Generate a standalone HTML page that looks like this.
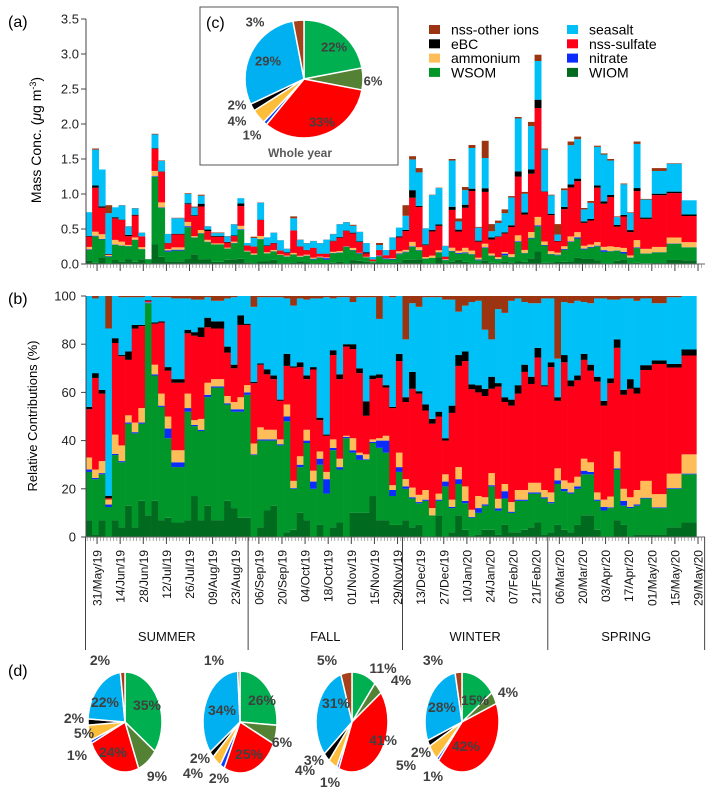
<!DOCTYPE html>
<html><head><meta charset="utf-8"><style>
body{margin:0;background:#fff}
svg{display:block;font-family:"Liberation Sans",Arial,sans-serif}
</style></head><body>
<svg id="chart" width="713" height="790" viewBox="0 0 713 790" xmlns="http://www.w3.org/2000/svg">
<g id="pa"></g>
<g id="pb"></g>
<g id="pc"></g>
<g id="pd"></g>
<g id="lg"></g>
</svg>
<script>
const components=["WIOM","WSOM","nitrate","ammonium","nss-sulfate","eBC","seasalt","nss-other ions"];
const barColors=["#006a1e","#00962a","#0a2cff","#ffbd5a","#ff0019","#000000","#00c0f8","#9b3411"];
const pieColors=["#00b050","#548235","#ff0000","#0a3cff","#fbbd3a","#000000","#00b0f0","#a5421b"];
const totalMass=[0.74,1.65,1.35,0.84,0.81,0.84,0.54,0.80,0.45,0.07,1.86,1.48,0.43,0.66,0.66,1.01,0.82,0.99,0.54,0.45,0.45,0.40,0.57,0.94,0.30,0.39,0.88,0.38,0.45,0.34,0.22,0.68,0.35,0.30,0.33,0.30,0.35,0.43,0.57,0.60,0.56,0.46,0.30,0.10,0.30,0.20,0.38,
0.52,0.84,1.54,1.37,0.51,0.99,1.09,0.26,1.50,0.65,1.10,1.70,0.53,1.76,0.57,0.62,0.78,0.97,2.10,1.03,2.03,2.99,1.65,0.99,0.57,1.08,1.75,1.82,0.80,0.90,1.69,1.58,1.50,0.68,1.15,0.74,1.75,0.93,1.37,1.44,0.91];
const pctWIOM=[7,1,7,0,7,4,13,4,15,9,15,7,8,6,6,7,17,7,13,7,7,15,12,8,8,0,4,11,13,0,2,3,10,7,0,5,0,4,6,0,10,10,10,17,7,7,5,
5,7,4,5,0,0,9,0,2,9,3,0,1,3,3,1,5,2,2,3,4,6,1,2,5,3,2,5,9,9,3,0,0,7,5,0,1,1,1,4,6];
const pctWSOM=[20,23,19,12,27,27,34,39,32,88,52,47,33,23,23,45,29,37,45,55,55,40,40,44,51,34,36,29,27,38,46,17,19,32,20,25,18,32,22,41,25,22,22,22,30,28,12,
22,13,12,9,15,9,6,21,10,13,11,8,9,10,18,10,11,8,13,12,14,12,15,12,17,16,16,15,17,17,12,11,12,21,8,12,12,15,11,16,20];
const pctNitrate=[1,0.5,0.5,1,0.5,0.5,0.5,0.5,0.5,0.3,0.5,0.5,4,2,2,1.5,0.5,0.5,1,0.5,0.5,0.5,1,1,1,0.3,0.5,0.5,0.5,0.5,2,0.3,1,1,3,2.5,6,1,1,0.5,1,2,0.3,0.5,3,5,2.5,
2,1,0.5,0.5,0.5,0,0.5,2,0.5,2,1,0.3,2,0.5,0.5,1,3,0.5,0.5,0.5,0.5,0.5,0.5,0.5,1.5,1,0.5,1,1.5,1,0.5,1.5,0.3,0.5,2,0.5,0.5,0.3,0.3,0.3,0.3];
const pctAmmonium=[5,3.5,5,2,8,6.5,3,4,6,0.2,4,5,5,5,5,6,2,4.5,5,3,3,3,3,5,3,4.5,5,4,4,2,5,3,3.5,4.5,4.5,3,3,3.5,3.5,0.5,5,1,2,1,1,2,2,
6,3,4,3,4,3,2.5,3,3,5,6,3,5,3,5,4,3,4,4,4,4,4,3,4,5,3.5,4,4,5,4,3,3,4.5,7,5,4,6,7,5.5,6,8];
const pctSulfate=[20,38,28,0.5,38,37,23,39,34,0.5,17,29.5,19,28,28,25,35,34,23,21,21,18,14,30,25,25,26,23,21,16,16,47,37,21,42,13,15,35,33,37,37,33,16,25,25,20,32,
38,32,41,42,33,35,32,14,36,42,52,50,43,42,35,47,34,40,40,49,41,52,43,52,28,49,40,40,41,38,46,39,47,43,39,45,40,46,54,44,41];
const pctEBC=[1,2,1.5,1,2,0.5,3.5,1.5,0.5,0.3,0.5,0.5,1.5,1.5,1.5,1.5,1.5,4,4,3,3,2.5,1.5,4,0.5,0.5,0.5,2,1.5,0.5,5,0.5,2,1.5,1,1,0.5,2,2,1,2,2,6,1.5,1.5,1,0.5,
3,2,7,1,2.5,2,2,1,3,4.5,4,2,3,3,5,1.5,2,2.5,3.5,3,3,4,0.5,2,1.5,3,2.5,2,2.5,2.5,2,2,2,3.5,2,4,2.5,2,1.5,1.5,2.5];
const pctSeasalt=[46,31,39,67,17.5,24,22.5,11.5,11.5,1.7,10.5,10,29,33.5,33.5,13,13.5,11.5,8.5,8.5,8.5,20,28,8,11.5,31.2,27.5,30,32.5,42.5,23,25.2,26.5,31.5,28.5,49.5,57,21.5,32,19.5,17.5,29.5,43.2,32.5,23,37,45.5,
24,24,28.5,35,44.5,50.5,47.5,57.5,44,18,19,34.2,35,24.5,15.5,31,35,41,36,26,30.5,18.5,36,26.5,16,22,32,31,21.5,25.5,32.5,42.5,32.7,16.5,38,33.5,36,27.7,23.7,27.7,22.2];
const pctOther=[0,1,0,13,0,0.5,0.5,0.5,0.5,0,0.5,0.5,0.5,1,1,1,1.5,1.5,0.5,2,2,1,0.5,0,0,4.5,0.5,0.5,0.5,0.5,1,4,1,1.5,1,1,0.5,1,0.5,0.5,2.5,0.5,0.5,0.5,9.5,0,0.5,
0,18,3,4.5,0.5,0.5,0.5,1.5,1.5,6.5,4,2.5,2,14,18,5.5,7,2,1,2.5,3,3,1,1,26,2.5,3,2,2.5,3,1,1,1.5,1.5,1,1,2,1,3,0.5,0];
const sampleDays=[4,4,4,4,4,4,4,4,4,4,4,4,4,4,4,4,4,4,4,4,4,4,4,4,4,4,4,4,4,4,4,4,4,4,4,4,4,4,4,4,4,4,4,4,4,4,4,
4,4,4,4,4,4,4,4,4,4,4,4,4,4,4,4,4,4,4,4,4,4,4,4,4,4,4,4,4,4,4,4,4,4,4,4,4,7,9,9,9,9];
const tickLabels=["31/May/19","14/Jun/19","28/Jun/19","12/Jul/19","26/Jul/19","09/Aug/19","23/Aug/19","06/Sep/19","20/Sep/19","04/Oct/19","18/Oct/19","01/Nov/19","15/Nov/19","29/Nov/19","13/Dec/19","27/Dec/19","10/Jan/20","24/Jan/20","07/Feb/20","21/Feb/20","06/Mar/20","20/Mar/20","03/Apr/20","17/Apr/20","01/May/20","15/May/20","29/May/20"];
const tickDays=[7,21,35,49,63,77,91,105,119,133,147,161,175,189,203,217,231,245,259,273,287,301,315,329,343,357,371];
const seasonNames=["SUMMER","FALL","WINTER","SPRING"];
const seasonBounds=[0,98.5,192,280,375];
const massTicks=[0,0.5,1.0,1.5,2.0,2.5,3.0,3.5];
const pctTicks=[0,20,40,60,80,100];
const yearPie=[22,6,33,1,4,2,29,3];
const summerPie=[35,9,24,1,5,2,22,2];
const fallPie=[26,6,25,2,4,2,34,1];
const winterPie=[11,4,41,1,4,3,31,5];
const springPie=[15,4,42,1,5,2,28,3];

const NS="http://www.w3.org/2000/svg";
function mk(parent,tag,attrs,text){const e=document.createElementNS(NS,tag);for(const k in attrs)e.setAttribute(k,attrs[k]);if(text!=null)e.textContent=text;parent.appendChild(e);return e;}
const xDay=d=>85.5+d*1.651;
const yMass=v=>264-v*70;
const yPct=p=>537-p*2.41;
const series=[pctWIOM,pctWSOM,pctNitrate,pctAmmonium,pctSulfate,pctEBC,pctSeasalt,pctOther];

const pa=document.getElementById('pa'), pb=document.getElementById('pb');
let day=0;
for(let i=0;i<totalMass.length;i++){
  const x0=xDay(day), x1=xDay(day+sampleDays[i]); day+=sampleDays[i];
  let sum=0; for(const s of series) sum+=s[i];
  let cum=0;
  for(let c=0;c<8;c++){
    const f=series[c][i]/sum; if(f<=0){continue;}
    const a0=cum, a1=cum+f; cum=a1;
    const ra=mk(pa,'rect',{x:x0,y:yMass(a1*totalMass[i]),width:x1-x0+0.3,height:Math.max(0,yMass(a0*totalMass[i])-yMass(a1*totalMass[i])),fill:barColors[c]});
    
    
    const rb=mk(pb,'rect',{x:x0,y:yPct(a1*100),width:x1-x0+0.3,height:Math.max(0,yPct(a0*100)-yPct(a1*100)),fill:barColors[c]});
    
    
  }
}
function axis(g,yFn,ticks,fmt,top,bot,labelX){
  mk(g,'line',{x1:86,y1:top,x2:86,y2:bot,stroke:'#444','stroke-width':1});
  ticks.forEach(t=>{const y=yFn(t);
    mk(g,'line',{x1:81,y1:y,x2:86,y2:y,stroke:'#444'});
    const tl=mk(g,'text',{x:labelX,y:y+4.5,'text-anchor':'end','font-size':13,fill:'#222'},fmt(t));
    
    
  });
  mk(g,'line',{x1:86,y1:bot,x2:705,y2:bot,stroke:'#666'});
  for(let d=1;d<375;d+=2){mk(g,'line',{x1:xDay(d),y1:bot,x2:xDay(d),y2:bot+4,stroke:'#777','stroke-width':0.6});}
  tickDays.forEach(d=>mk(g,'line',{x1:xDay(d),y1:bot,x2:xDay(d),y2:bot+7,stroke:'#444'}));
}
axis(pa,yMass,massTicks,t=>t.toFixed(1),19,264,79);
axis(pb,yPct,pctTicks,t=>String(t),296,537,76);
mk(pa,'text',{x:8,y:27,'font-size':16},'(a)');
mk(pb,'text',{x:8,y:304,'font-size':16},'(b)');
const ya=mk(pa,'text',{transform:'translate(41,140) rotate(-90)','text-anchor':'middle','font-size':14},'');


ya.innerHTML='Mass Conc. (<tspan font-style="italic">μ</tspan>g m<tspan dy="-5" font-size="9">-3</tspan><tspan dy="5">)</tspan>';
const yb=mk(pb,'text',{transform:'translate(37,416) rotate(-90)','text-anchor':'middle','font-size':13},'Relative Contributions (%)');


tickDays.forEach((d,i)=>{const x=xDay(d)+4.5;
  const t=mk(pb,'text',{transform:`translate(${x},550) rotate(-90)`,'text-anchor':'end','font-size':12,fill:'#111'},tickLabels[i]);
  
  
});
seasonBounds.forEach(d=>mk(pb,'line',{x1:xDay(d),y1:537,x2:xDay(d),y2:650,stroke:'#444'}));
seasonNames.forEach((s,i)=>{const cx=(xDay(seasonBounds[i])+xDay(seasonBounds[i+1]))/2;
  const t=mk(pb,'text',{x:cx,y:641,'text-anchor':'middle','font-size':13,fill:'#111'},s);
  
  
});
const lg=document.getElementById('lg');
const legOrder=[[7,'nss-other ions'],[6,'seasalt'],[5,'eBC'],[4,'nss-sulfate'],[3,'ammonium'],[2,'nitrate'],[1,'WSOM'],[0,'WIOM']];
legOrder.forEach((it,k)=>{const col=k%2,row=Math.floor(k/2);const x=col?567:429,y=25+row*14.3;
  const g=mk(lg,'g',{});
  
  
  mk(g,'rect',{x:x,y:y,width:11,height:9,fill:barColors[it[0]]});
  mk(g,'text',{x:x+22,y:y+9.5,'font-size':14},it[1]);
});
// label layout positions (layout only, not data)
const labelLayout={
 year:[[334,47],[373,81],[322,122],[252,135],[237,121],[237,105],[268,61],[255,22]],
 summer:[[147,705],[157,776],[113,752],[77,755],[84,733],[74,718],[105,702],[100,660]],
 fall:[[262,700],[282,742],[249,754],[219,778],[193,773],[200,758],[222,710],[214,660]],
 winter:[[383,668],[401,680],[383,740],[330,782],[305,770],[314,760],[336,703],[327,660]],
 spring:[[475,700],[508,692],[466,746],[433,776],[406,765],[421,752],[442,707],[433,660]]
};
function pie(g,cx,cy,rx,ry,vals,fs,nameBase,lay){
  const tot=vals.reduce((a,b)=>a+b,0);let a=0;
  const pt=(ang,kx,ky)=>[cx+kx*Math.sin(ang),cy-ky*Math.cos(ang)];
  vals.forEach((v,i)=>{const a0=a/tot*2*Math.PI;a+=v;const a1=a/tot*2*Math.PI;
    const p0=pt(a0,rx,ry),p1=pt(a1,rx,ry);
    const s=mk(g,'path',{d:`M${cx},${cy}L${p0[0]},${p0[1]}A${rx},${ry} 0 ${a1-a0>Math.PI?1:0} 1 ${p1[0]},${p1[1]}Z`,fill:pieColors[i],stroke:'#fff','stroke-width':1.5});
    
    
  });
  vals.forEach((v,i)=>{const lp=lay[i];
    const t=mk(g,'text',{x:lp[0],y:lp[1]+fs*0.35,'text-anchor':'middle','font-size':fs,'font-weight':'bold',fill:'#404040','font-family':'"Liberation Sans Narrow","Liberation Sans",sans-serif'},v+'%');
    
    
  });
}
const pc=document.getElementById('pc');
mk(pc,'rect',{x:200,y:7,width:198,height:158,fill:'#fff',stroke:'#555','stroke-width':1});
mk(pc,'text',{x:206,y:28,'font-size':16},'(c)');
pie(pc,304,79,59,59,yearPie,13,'whole-year-pie',labelLayout.year);
mk(pc,'text',{x:300,y:157,'text-anchor':'middle','font-size':12,'font-weight':'bold',fill:'#595959'},'Whole year');
const pd=document.getElementById('pd');
mk(pd,'text',{x:8,y:676,'font-size':16},'(d)');
pie(pd,125,722,37,50,summerPie,14,'summer-pie',labelLayout.summer);
pie(pd,240,722,37,51,fallPie,14,'fall-pie',labelLayout.fall);
pie(pd,352,722,36,50,winterPie,14,'winter-pie',labelLayout.winter);
pie(pd,462,722,37,50,springPie,14,'spring-pie',labelLayout.spring);
</script>
</body></html>
